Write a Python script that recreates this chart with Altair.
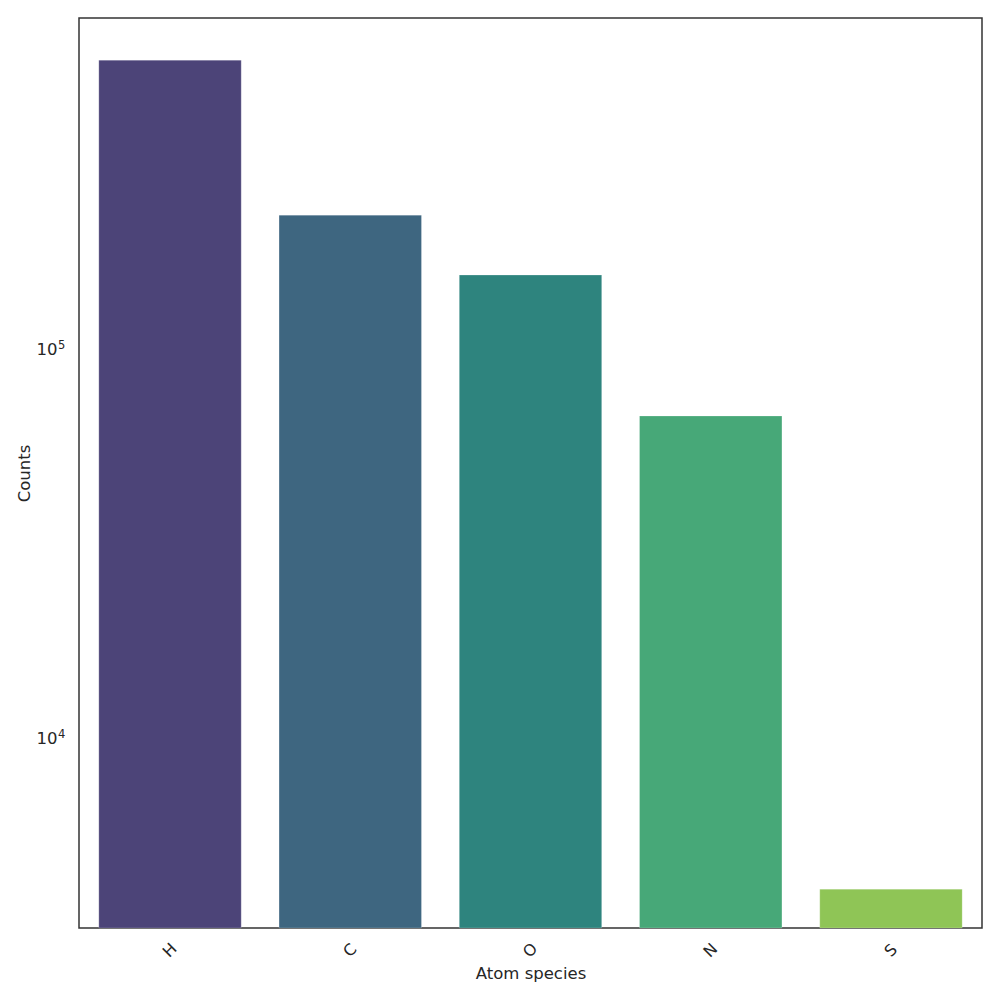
import altair as alt
import pandas as pd

species = ["H", "C", "O", "N", "S"]
counts = [553000, 221000, 155000, 67300, 4090]
colors = ["#4c4478", "#3e6680", "#2e847e", "#47a878", "#8fc556"]

tick_values = [10000, 100000]
tick_exponents = ["4", "5"]

df = pd.DataFrame({"species": species, "counts": counts, "base": [3250] * 5})
ticks_df = pd.DataFrame({"v": tick_values, "exp": tick_exponents})

font = "DejaVu Sans"
yscale = alt.Scale(type="log", domain=[3250, 710000], nice=False)

bars = alt.Chart(df).mark_bar(stroke="#ffffff", strokeWidth=0.5, strokeOpacity=0.4).encode(
    x=alt.X("species:N", sort=species, title="Atom species",
            scale=alt.Scale(paddingInner=0.21, paddingOuter=0.11),
            axis=alt.Axis(labelAngle=-45, labelAlign="center", labelBaseline="middle",
                          labelPadding=22, ticks=False, domain=False,
                          labelFontSize=16, titleFontSize=16.5, titlePadding=5,
                          labelColor="#262626", titleColor="#262626",
                          labelFont=font, titleFont=font, titleFontWeight="normal")),
    y=alt.Y("counts:Q", title="Counts", scale=yscale,
            axis=alt.Axis(values=tick_values, ticks=False, domain=False, grid=False,
                          labelExpr="'10'", labelAlign="right", labelBaseline="middle",
                          labelFontSize=16.5, titleFontSize=16.5, labelPadding=22, titlePadding=4,
                          labelColor="#262626", titleColor="#262626",
                          labelFont=font, titleFont=font, titleFontWeight="normal")),
    y2=alt.Y2("base:Q"),
    color=alt.Color("species:N", sort=species,
                    scale=alt.Scale(domain=species, range=colors), legend=None),
)

sup = alt.Chart(ticks_df).mark_text(
    align="left", baseline="alphabetic", fontSize=11.5, font=font, color="#262626", clip=False
).encode(
    x=alt.value(-21),
    y=alt.Y("v:Q", scale=yscale),
    text="exp:N",
)

chart = alt.layer(bars, sup).properties(
    width=903, height=910,
    autosize=alt.AutoSizeParams(type="none"),
    padding={"left": 71, "top": 10, "right": 10, "bottom": 70},
).configure_view(
    stroke="#333333", strokeWidth=1.5
).configure_axis(grid=False)

chart.save("out.html", embed_options={"renderer": "svg", "actions": False})
